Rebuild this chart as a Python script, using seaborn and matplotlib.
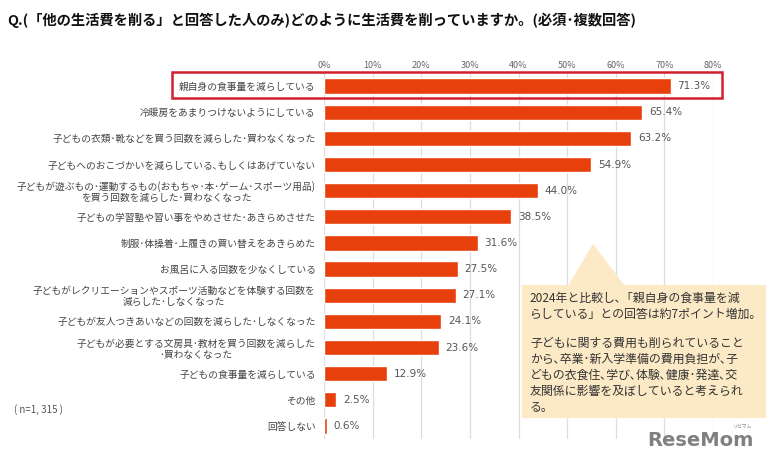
import matplotlib
matplotlib.use("Agg")
import matplotlib.pyplot as plt
import seaborn as sns
import pandas as pd
from matplotlib.patches import Rectangle, Polygon

categories = [
    "親自身の食事量を減らしている",
    "冷暖房をあまりつけないようにしている",
    "子どもの衣類･靴などを買う回数を減らした･買わなくなった",
    "子どもへのおこづかいを減らしている､もしくはあげていない",
    "子どもが遊ぶもの･運動するもの(おもちゃ･本･ゲーム･スポーツ用品)\nを買う回数を減らした･買わなくなった",
    "子どもの学習塾や習い事をやめさせた･あきらめさせた",
    "制服･体操着･上履きの買い替えをあきらめた",
    "お風呂に入る回数を少なくしている",
    "子どもがレクリエーションやスポーツ活動などを体験する回数を\n減らした･しなくなった",
    "子どもが友人つきあいなどの回数を減らした･しなくなった",
    "子どもが必要とする文房具･教材を買う回数を減らした\n･買わなくなった",
    "子どもの食事量を減らしている",
    "その他",
    "回答しない",
]
values = [71.3, 65.4, 63.2, 54.9, 44.0, 38.5, 31.6, 27.5, 27.1, 24.1, 23.6, 12.9, 2.5, 0.6]
xticks = [0, 10, 20, 30, 40, 50, 60, 70, 80]
xtick_labels = [f"{v}%" for v in xticks]

title = "Q.(「他の生活費を削る」と回答した人のみ)どのように生活費を削っていますか。(必須･複数回答)"
note_n = "( n=1, 315 )"
callout1 = "2024年と比較し､「親自身の食事量を減\nらしている」との回答は約7ポイント増加。"
callout2 = ("子どもに関する費用も削られていること\nから､卒業･新入学準備の費用負担が､子\n"
            "どもの衣食住､学び､体験､健康･発達､交\n友関係に影響を及ぼしていると考えられ\nる。")

sns.set_theme(style="white")
plt.rcParams["font.family"] = ["Noto Sans CJK JP", "DejaVu Sans"]

W, H = 769, 459
fig = plt.figure(figsize=(W / 100, H / 100), dpi=100)
fig.patch.set_facecolor("white")

def fx(px):
    return px / W

def fy(py):
    return 1 - py / H

ax = fig.add_axes([fx(324), fy(439), fx(713) - fx(324), fy(73) - fy(439)])

df = pd.DataFrame({"cat": categories, "val": values})
sns.barplot(data=df, x="val", y="cat", orient="h", color="#E8400C",
            width=0.58, ax=ax, saturation=1, zorder=3)

ax.set_xlim(0, 80)
ax.set_ylim(len(categories) - 0.5, -0.5)
ax.set_xticks(xticks)
ax.set_xticklabels(xtick_labels)
ax.xaxis.tick_top()
ax.tick_params(axis="x", length=0, pad=2, labelsize=6.5, labelcolor="#666666")
ax.tick_params(axis="y", length=0, pad=6, labelsize=7, labelcolor="#444444")
for t in ax.get_yticklabels():
    t.set_multialignment("center")
    t.set_linespacing(1.15)
ax.set_xlabel("")
ax.set_ylabel("")
for s in ax.spines.values():
    s.set_visible(False)
ax.grid(axis="x", color="#DDDDDD", linewidth=0.9, zorder=0)
ax.set_axisbelow(True)

for i, v in enumerate(values):
    ax.text(v + 1.4, i, f"{v:.1f}%", va="center", ha="left",
            fontsize=7.5, color="#555555", family="DejaVu Sans")

# title
fig.text(fx(7), fy(20), title, fontsize=10.3, fontweight="bold",
         color="#111111", va="center", ha="left")

# highlight box
fig.add_artist(Rectangle((fx(172), fy(98)), fx(722) - fx(172), fy(72) - fy(98),
                         transform=fig.transFigure, fill=False,
                         edgecolor="#D0202E", linewidth=1.8, zorder=10))

# n note
fig.text(fx(14), fy(410), note_n, fontsize=7, color="#555555", va="center", ha="left")

# callout
box_color = "#FCEAC6"
fig.add_artist(Polygon([(fx(568), fy(286)), (fx(593), fy(244)), (fx(625), fy(286))],
                       closed=True, transform=fig.transFigure,
                       facecolor=box_color, edgecolor="none", zorder=8))
fig.add_artist(Rectangle((fx(522), fy(418)), fx(766) - fx(522), fy(285) - fy(418),
                         transform=fig.transFigure, facecolor=box_color,
                         edgecolor="none", zorder=8))
fig.text(fx(530), fy(292), callout1, fontsize=8.6, color="#333333",
         va="top", ha="left", linespacing=1.3, zorder=11)
fig.text(fx(530), fy(337), callout2, fontsize=8.6, color="#333333",
         va="top", ha="left", linespacing=1.3, zorder=11)

# logo
fig.text(fx(754), fy(440), "ReseMom", fontsize=14, fontweight="bold",
         color="#808080", va="center", ha="right", family="DejaVu Sans", zorder=11)
fig.text(fx(743), fy(426), "リセマム", fontsize=3.5, color="#888888",
         va="center", ha="center", zorder=11)

fig.savefig("out.png", dpi=100)
